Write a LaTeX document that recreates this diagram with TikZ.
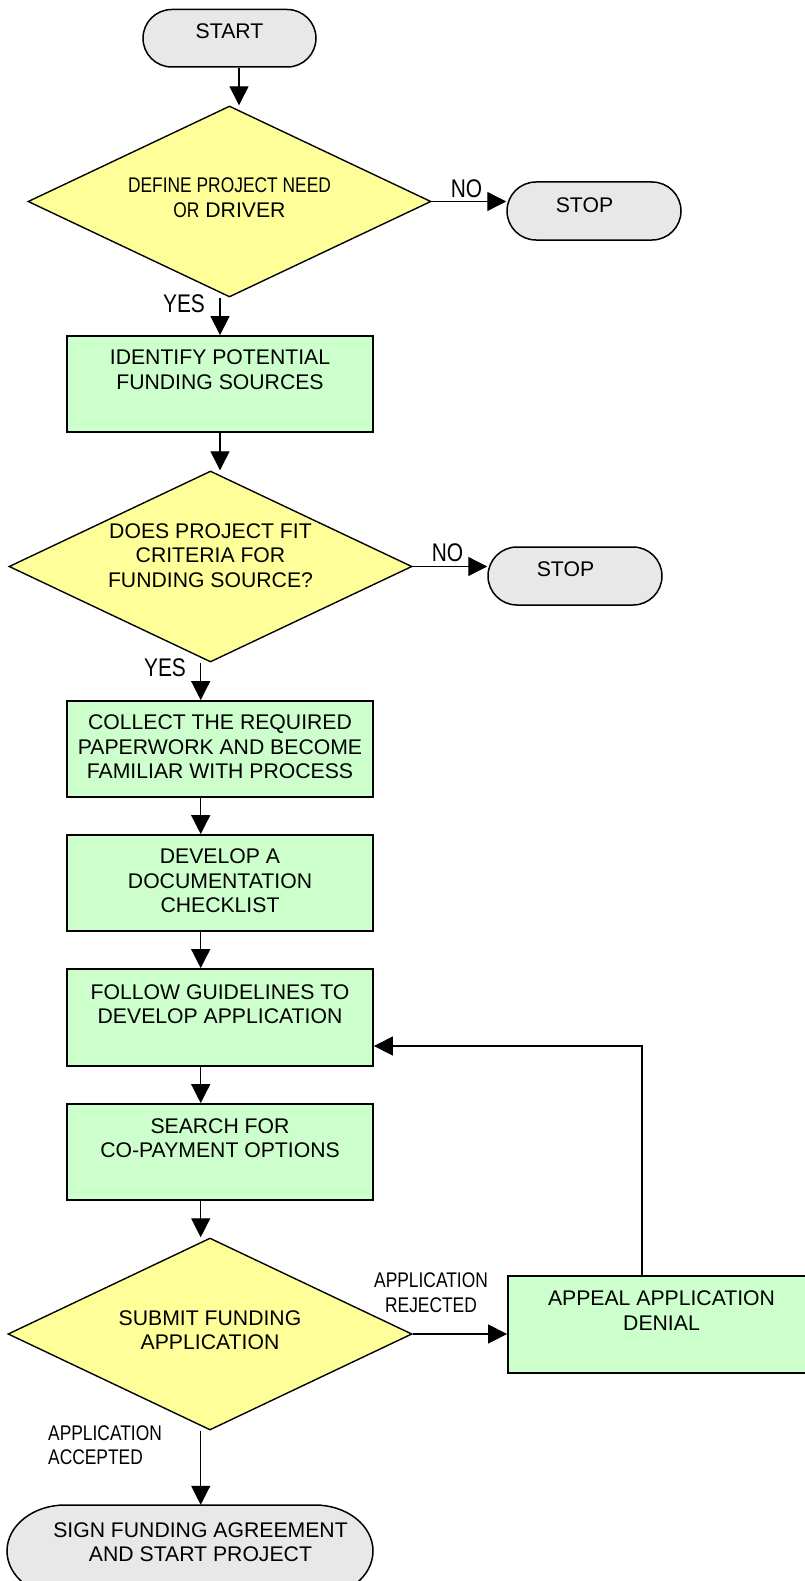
\documentclass[tikz,border=0pt]{standalone}
\usepackage{fontspec}
\setmainfont{Liberation Sans}
\newfontfamily\narrowfont[FakeStretch=0.82]{Liberation Sans}
\usetikzlibrary{shapes.geometric,shapes.misc,arrows.meta}
\definecolor{decfill}{HTML}{FFFF99}
\definecolor{procfill}{HTML}{CCFFCC}
\definecolor{termfill}{HTML}{E8E8E8}
\tikzset{
  process/.style={draw=black, line width=1.8pt, fill=procfill, rectangle,
    minimum width=306pt, minimum height=96pt, inner sep=0pt},
  decision/.style={draw=black, line width=1.4pt, fill=decfill, diamond,
    minimum width=403pt, minimum height=191pt, inner sep=0pt},
  terminal/.style={draw=black, line width=1.5pt, fill=termfill, rounded rectangle,
    minimum width=174pt, minimum height=58pt, inner sep=0pt},
  txt/.style={inner sep=0pt, align=center, font=\fontsize{21.2}{24.5}\selectfont},
  lbl/.style={inner sep=0pt, align=center, font=\fontsize{21.2}{24.5}\selectfont\narrowfont},
  yn/.style={inner sep=0pt, font=\fontsize{25.5}{28}\selectfont\narrowfont},
  arr/.style={line width=1.3pt, -{Triangle[length=19pt,width=19pt]}},
}
\begin{document}
\begin{tikzpicture}[x=1pt,y=-1pt]
\clip (0,0) rectangle (805,1581);
\fill[white] (0,0) rectangle (805,1581);

% axes for the vertical connectors
\coordinate (ax1) at (239,0);
\coordinate (ax2) at (220,0);
\coordinate (ax3) at (200.7,0);
\coordinate (rx) at (642,1046);

% shapes
\node[terminal, minimum width=173pt, minimum height=57.5pt] (start) at (229.5,38.25) {};
\node[decision] (d1) at (229.5,201.5) {};
\node[terminal] (stop1) at (594,211) {};
\node[process] (b1) at (220,384) {};
\node[decision] (d2) at (210.5,566.5) {};
\node[terminal] (stop2) at (575,576) {};
\node[process] (b2) at (220,749) {};
\node[process] (b3) at (220,883) {};
\node[process, minimum height=97pt] (b4) at (220,1017.5) {};
\node[process] (b5) at (220,1152) {};
\node[decision, minimum width=404pt, minimum height=192pt] (d3) at (210,1334) {};
\node[process, minimum width=307pt, minimum height=97pt] (appeal) at (661.5,1324.5) {};
\filldraw[line width=1.5pt, fill=termfill] (65,1505) -- (315,1505)
  arc[start angle=-90, end angle=90, x radius=58, y radius=46] -- (65,1597)
  arc[start angle=90, end angle=270, x radius=58, y radius=46] -- cycle;
\node[txt, minimum height=74pt] (final) at (200.5,1542) {SIGN FUNDING AGREEMENT\\AND START PROJECT};

% texts
\node[txt] (startt) at (229.5,31.5) {START};
\node[txt] (d1t) at (229.5,197.5) {{\narrowfont DEFINE PROJECT NEED}\\{\narrowfont OR} DRIVER};
\node[txt] (stop1t) at (584.5,205) {STOP};
\node[txt] (b1t) at (220,369.5) {IDENTIFY POTENTIAL\\FUNDING SOURCES};
\node[txt] (d2t) at (210.5,555.5) {DOES PROJECT FIT\\CRITERIA FOR\\FUNDING SOURCE?};
\node[txt] (stop2t) at (565.5,569) {STOP};
\node[txt] (b2t) at (220,747) {COLLECT THE REQUIRED\\PAPERWORK AND BECOME\\FAMILIAR WITH PROCESS};
\node[txt] (b3t) at (220,881) {DEVELOP A\\DOCUMENTATION\\CHECKLIST};
\node[txt] (b4t) at (220,1004) {FOLLOW GUIDELINES TO\\DEVELOP APPLICATION};
\node[txt] (b5t) at (220,1138) {SEARCH FOR\\CO-PAYMENT OPTIONS};
\node[txt] (d3t) at (210,1330) {SUBMIT FUNDING\\APPLICATION};
\node[txt] (appealt) at (661.5,1310.5) {APPEAL APPLICATION\\DENIAL};

% labels
\node[yn] (no1) at (466.5,189) {NO};
\node[yn] (yes1) at (184,304) {YES};
\node[yn] (no2) at (447.5,552.5) {NO};
\node[yn] (yes2) at (165,668) {YES};
\node[lbl] (rej) at (431,1292.5) {APPLICATION\\REJECTED};
\node[lbl, align=left, anchor=west] (acc) at (48,1445) {APPLICATION\\ACCEPTED};

% connectors
\draw[arr] (start.south -| ax1) -- (d1.north -| ax1);
\draw[arr] (d1.south -| ax2) -- (b1.north -| ax2);
\draw[arr] (b1.south -| ax2) -- (d2.north -| ax2);
\draw[arr] (d2.south -| ax3) -- (b2.north -| ax3);
\draw[arr] (b2.south -| ax3) -- (b3.north -| ax3);
\draw[arr] (b3.south -| ax3) -- (b4.north -| ax3);
\draw[arr] (b4.south -| ax3) -- (b5.north -| ax3);
\draw[arr] (b5.south -| ax3) -- (d3.north -| ax3);
\draw[arr] (d3.south -| ax3) -- (final.north -| ax3);
\draw[arr] (d1.east) -- (d1.east -| stop1.west);
\draw[arr] (d2.east) -- (d2.east -| stop2.west);
\draw[arr] (d3.east) -- (d3.east -| appeal.west);
\draw[arr] (appeal.north -| rx) -- (rx) -- (rx -| b4.east);
\end{tikzpicture}
\end{document}
